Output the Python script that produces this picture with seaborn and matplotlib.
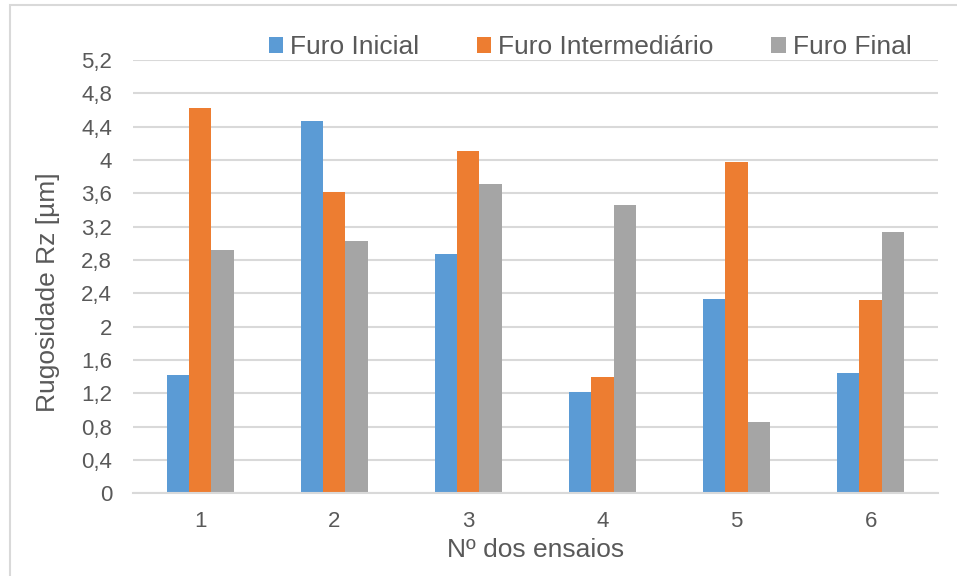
import matplotlib
matplotlib.use("Agg")
import matplotlib.pyplot as plt
import matplotlib.patches as mpatches
import seaborn as sns
import pandas as pd

ensaios = ["1", "2", "3", "4", "5", "6"]
furo_inicial = [1.42, 4.47, 2.87, 1.22, 2.33, 1.44]
furo_intermediario = [4.62, 3.61, 4.11, 1.40, 3.97, 2.32]
furo_final = [2.92, 3.03, 3.71, 3.46, 0.86, 3.14]
series_names = ["Furo Inicial", "Furo Intermediário", "Furo Final"]
colors = ["#5B9BD5", "#ED7D31", "#A5A5A5"]
yticks = [0, 0.4, 0.8, 1.2, 1.6, 2, 2.4, 2.8, 3.2, 3.6, 4, 4.4, 4.8, 5.2]

rows = []
for name, vals in zip(series_names, [furo_inicial, furo_intermediario, furo_final]):
    for e, v in zip(ensaios, vals):
        rows.append({"ensaio": e, "serie": name, "valor": v})
df = pd.DataFrame(rows)

sns.set_theme(style="white")
plt.rcParams["font.family"] = ["Liberation Sans", "DejaVu Sans"]

fig = plt.figure(figsize=(9.57, 5.76), dpi=100)
ax = fig.add_axes([133/957, 1-493.3/576, (937.7-133)/957, (493.3-60)/576])

sns.barplot(data=df, x="ensaio", y="valor", hue="serie", order=ensaios,
            hue_order=series_names, palette=colors, width=0.5,
            linewidth=0, saturation=1, ax=ax, errorbar=None)

ax.set_ylim(0, 5.2)
ax.set_xlim(-0.5, 5.5)
ax.set_yticks(yticks)
ax.set_yticklabels([f"{t:g}".replace(".", ",") for t in yticks])
ax.yaxis.grid(True, color="#D9D9D9", linewidth=1.5)
ax.set_axisbelow(True)
for s in ["top", "right", "left"]:
    ax.spines[s].set_visible(False)
ax.spines["bottom"].set_color("#D9D9D9")
ax.spines["bottom"].set_linewidth(1.5)
ax.tick_params(axis="both", length=0, labelsize=16, colors="#595959")
ax.tick_params(axis="y", pad=15)
ax.tick_params(axis="x", pad=13)
ax.set_xlabel("Nº dos ensaios", fontsize=19, color="#595959", labelpad=4)
ax.set_ylabel("Rugosidade Rz [µm]", fontsize=19, color="#595959")
ax.yaxis.set_label_coords(-0.091, 0.465)

handles, labels = ax.get_legend_handles_labels()
ax.legend(handles, labels, ncol=3, loc="center", bbox_to_anchor=(590/957, 1-47/576),
          bbox_transform=fig.transFigure, frameon=False, fontsize=19,
          handlelength=0.55, handleheight=0.55, handletextpad=0.25,
          columnspacing=2.2, labelcolor="#595959", borderpad=0)

border = mpatches.Rectangle((9.5/957, -0.1), 1.2, 1.1 - 4.5/576,
                            transform=fig.transFigure, fill=False,
                            edgecolor="#D9D9D9", linewidth=1.5)
fig.patches.append(border)

fig.savefig("out.png", dpi=100)
